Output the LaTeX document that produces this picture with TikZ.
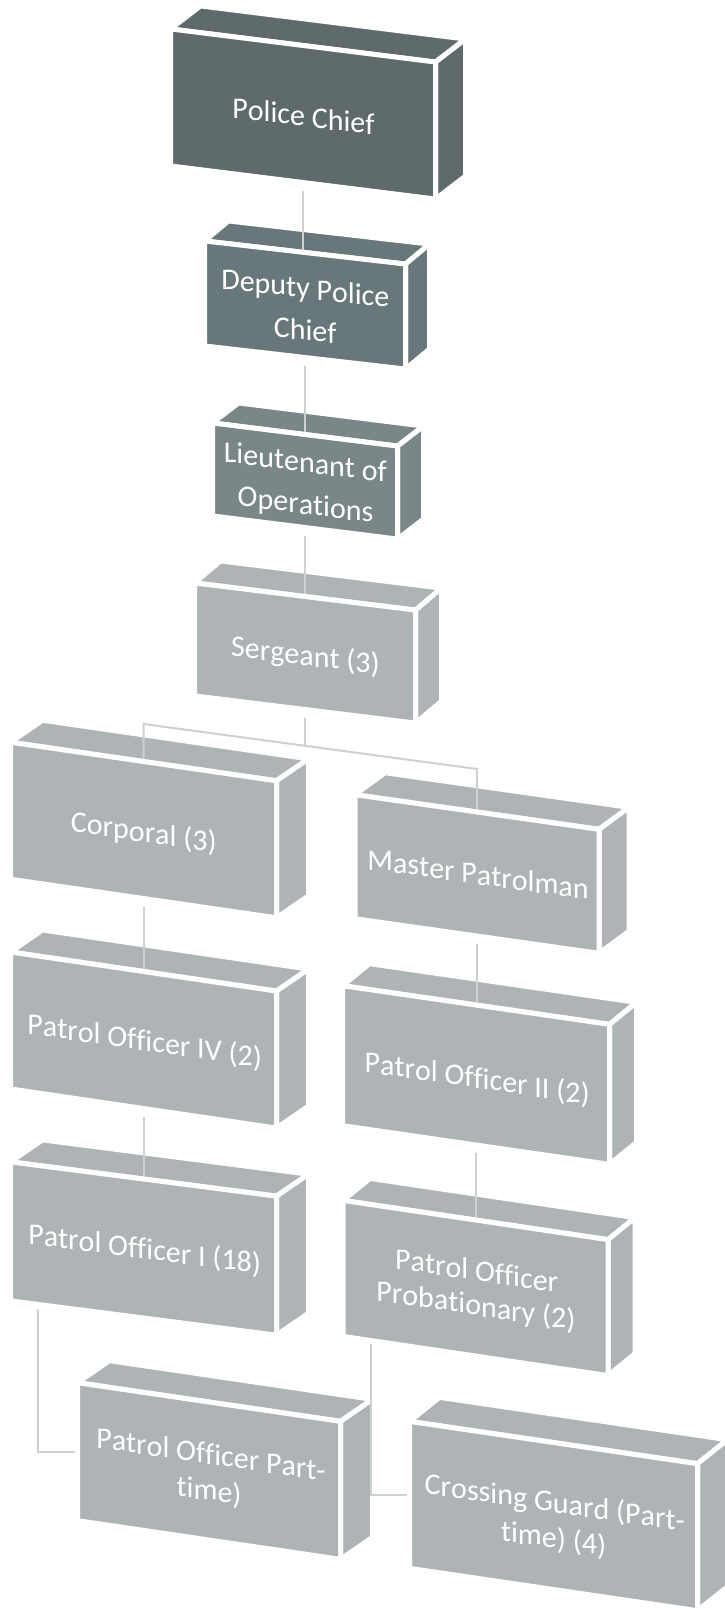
\documentclass[tikz,border=0pt]{standalone}
\usepackage{fontspec}
\setmainfont{Carlito}
\pgfdeclarelayer{bg}
\pgfdeclarelayer{fg}
\pgfsetlayers{bg,main,fg}
\definecolor{cA}{HTML}{5E6A6C}
\definecolor{cB}{HTML}{687779}
\definecolor{cC}{HTML}{798788}
\definecolor{cD}{HTML}{AEB4B5}
\definecolor{linkc}{HTML}{CDD1D1}
\newcommand\boxfont{\fontsize{30}{36}\selectfont}
\def\curslope{0}
\def\curnode{pc}
\newcount\chcount
\makeatletter
\newdimen\skl@x \newdimen\skl@W \newdimen\skl@d \newdimen\skl@e
\newbox\skl@box
% one line of upright letters on a sloping baseline;
% #1 = baseline below the box centre (px), #2 = text, spaces written as ~
\newcommand\sklline[2]{%
  \pgfinterruptpicture\global\setbox\skl@box\hbox{\boxfont #2}\endpgfinterruptpicture
  \skl@W=\wd\skl@box
  \ifdim\skl@W<1pt \let\skl@next\skl@flat \else \let\skl@next\skl@chars \fi
  \skl@next{#1}{#2}}
\newcommand\skl@flat[2]{%
  \skl@e=-#1pt
  \global\advance\chcount by 1
  \node[chartext] (ch\number\chcount) at ([shift={(0pt,\the\skl@e)}]\curnode.center) {#2};}
\newcommand\skl@chars[2]{%
  \skl@x=0pt
  \@tfor\skl@ch:=#2\do{%
    \pgfinterruptpicture\global\setbox\skl@box\hbox{\boxfont\skl@ch}\endpgfinterruptpicture
    \skl@d=\dimexpr\skl@x+0.5\wd\skl@box-0.5\skl@W\relax
    \skl@e=-\curslope\skl@d
    \advance\skl@e by -#1pt
    \global\advance\chcount by 1
    \node[chartext] (ch\number\chcount) at ([shift={(\the\skl@d,\the\skl@e)}]\curnode.center) {\skl@ch};%
    \advance\skl@x by \wd\skl@box}}
\makeatother
\tikzset{
  face/.style={draw=white, line width=5pt, line join=round, inner sep=0pt, outer sep=0pt},
  chartext/.style={anchor=base, inner sep=0pt, outer sep=0pt, text=white, font=\boxfont},
  depthface/.style={draw=white, line width=5pt, line join=round},
  link/.style={draw=linkc, line width=2pt}
}
% name, cx, cy, w, h, slope, colour, depth vector, text lines
\newcommand\orgbox[9]{%
  \def\curslope{#6}\def\curnode{#1}%
  \begin{pgfonlayer}{fg}
    \node[face, fill=#7, minimum width=#4pt+5pt, minimum height=#5pt+5pt, yslant=-#6] (#1) at (#2,#3) {};
    #9
  \end{pgfonlayer}
  \begin{pgfonlayer}{bg}
    \path[depthface, fill=#7] (#1.north west) -- (#1.north east) -- ([shift={(#8)}]#1.north east) -- ([shift={(#8)}]#1.north west) -- cycle;
    \path[depthface, fill=#7] (#1.north east) -- ([shift={(#8)}]#1.north east) -- ([shift={(#8)}]#1.south east) -- (#1.south east) -- cycle;
  \end{pgfonlayer}}
\begin{document}
\begin{tikzpicture}[x=1pt, y=-1pt]
\useasboundingbox (0,0) rectangle (725,1610);
\orgbox{pc}{303}{114}{260}{132}{0.125}{cA}{30,-23}{\sklline{12}{Police~Chief}}
\orgbox{dep}{305}{305}{196}{100}{0.115}{cB}{24,-20}{\sklline{-7}{Deputy~Police}\sklline{35}{Chief}}
\orgbox{lt}{305}{481}{180}{88}{0.125}{cC}{26,-20}{\sklline{-9}{Lieutenant~of}\sklline{33}{Operations}}
\orgbox{serg}{305}{653}{216}{108}{0.123}{cD}{26,-22}{\sklline{12}{Sergeant~(3)}}
\orgbox{cor}{143.5}{830}{261}{132}{0.145}{cD}{32,-22}{\sklline{12}{Corporal~(3)}}
\orgbox{mp}{477}{874}{239}{119}{0.142}{cD}{30,-22}{\sklline{10}{Master~Patrolman}}
\orgbox{po4}{143.5}{1040}{261}{132}{0.147}{cD}{32,-22}{\sklline{10.5}{Patrol~Officer~IV~(2)}}
\orgbox{po2}{476}{1075}{262}{135}{0.145}{cD}{27,-22}{\sklline{13}{Patrol~Officer~II~(2)}}
\orgbox{po1}{143.5}{1248.5}{261}{134}{0.129}{cD}{32,-22}{\sklline{10}{Patrol~Officer~I~(18)}}
\orgbox{prob}{475.5}{1288}{260}{131}{0.148}{cD}{27,-22}{\sklline{-7.5}{Patrol~Officer}\sklline{27}{Probationary~(2)}}
\orgbox{pt}{209}{1471}{258}{133}{0.147}{cD}{32,-22}{\sklline{-7}{Patrol~Officer~Part-}\sklline{29}{time)}}
\orgbox{cg}{553.5}{1516}{283}{142}{0.147}{cD}{30,-24}{\sklline{-4}{Crossing~Guard~(Part-}\sklline{32}{time)~(4)}}

\coordinate (brL) at (143.5,724);
\coordinate (brR) at (477,769);
\coordinate (brM) at (305,746);

\draw[link, shorten <=8pt] (pc.south) -- (pc.south |- dep.north);
\draw[link, shorten <=8pt] (dep.south) -- (lt.north);
\draw[link, shorten <=8pt] (lt.south) -- (serg.north);
\draw[link, shorten <=8pt] (serg.south) -- (brM);
\draw[link] (cor.north) -- (brL) -- (brR) -- (mp.north);
\draw[link, shorten <=8pt] (cor.south) -- (po4.north);
\draw[link, shorten <=8pt] (po4.south) -- (po1.north);
\draw[link, shorten <=8pt] (mp.south) -- (mp.south |- po2.north);
\draw[link, shorten <=8pt] (po2.south) -- (po2.south |- prob.north);
\draw[link, shorten <=8pt] ([xshift=27.5pt]po1.south west) |- (pt.west);
\draw[link, shorten <=8pt] ([xshift=28pt]prob.south west) |- (cg.west);
\end{tikzpicture}
\end{document}
